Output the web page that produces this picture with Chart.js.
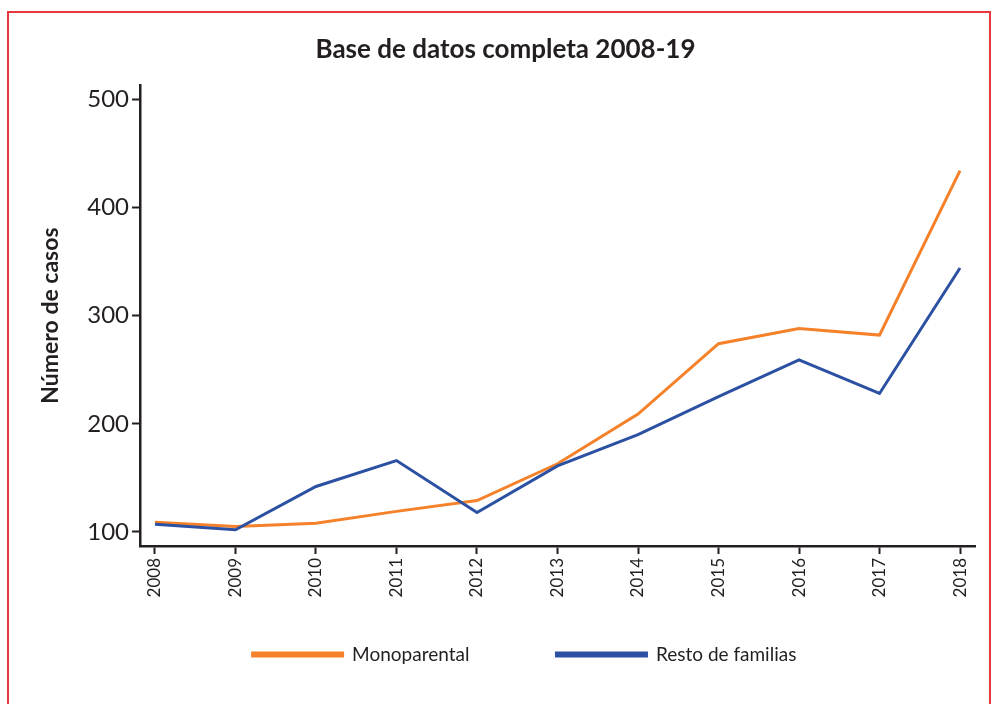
<!DOCTYPE html>
<html lang="es">
<head>
<meta charset="utf-8">
<title>Base de datos completa 2008-19</title>
<script src="https://cdn.jsdelivr.net/npm/chart.js@4.4.1/dist/chart.umd.min.js"></script>
<style>
    html, body { margin: 0; padding: 0; background: #fff; }
    body { width: 996px; height: 704px; position: relative; overflow: hidden; }
    .marco {
        position: absolute; left: 7px; top: 11px; width: 980px; height: 760px;
        border: 2px solid #e8383d; border-bottom: none;
    }
    #grafico { position: absolute; left: 36px; top: 0; }
</style>
</head>
<body>
<div class="marco"></div>
<canvas id="grafico" width="960" height="717"></canvas>
<script>
// datos
const years = [2008, 2009, 2010, 2011, 2012, 2013, 2014, 2015, 2016, 2017, 2018];
const monoparental = [109, 105, 108, 119, 129, 163, 209, 274, 288, 282, 434];
const restoFamilias = [107, 102, 142, 166, 118, 161, 190, 225, 259, 228, 344];
const yTicks = [100, 200, 300, 400, 500];

const ink = '#231f20';
const fuente = 'Lato, "Open Sans", sans-serif';

function toPoints(values) {
    return years.map((year, i) => ({ x: year, y: values[i] }));
}

// la leyenda usa un padding grande para separar los elementos; se recoloca después del layout
const moverLeyenda = {
    id: 'moverLeyenda',
    afterLayout(chart) {
        const lg = chart.legend;
        lg.top -= 43; lg.bottom -= 43;
        lg.left += 19; lg.right += 19;
    }
};

const ctx = document.getElementById('grafico').getContext('2d');
new Chart(ctx, {
    type: 'line',
    data: {
        datasets: [
            {
                label: 'Monoparental',
                data: toPoints(monoparental),
                borderColor: '#f5822a',
                backgroundColor: '#f5822a',
                borderWidth: 3,
                pointRadius: 0,
                tension: 0,
                order: 1
            },
            {
                label: 'Resto de familias',
                data: toPoints(restoFamilias),
                borderColor: '#2c51a3',
                backgroundColor: '#2c51a3',
                borderWidth: 3,
                pointRadius: 0,
                tension: 0,
                order: 0
            }
        ]
    },
    plugins: [moverLeyenda],
    options: {
        responsive: false,
        animation: false,
        layout: { padding: { left: 0, right: 21, top: 0, bottom: 0 } },
        plugins: {
            tooltip: { enabled: false },
            title: {
                display: true,
                text: 'Base de datos completa 2008-19',
                color: ink,
                font: { family: fuente, size: 26, weight: 'bold' },
                padding: { top: 34, bottom: 20 }
            },
            legend: {
                position: 'bottom',
                labels: {
                    color: ink,
                    font: { family: fuente, size: 19 },
                    boxWidth: 90,
                    boxHeight: 3,
                    padding: 87,
                    sort: (a, b) => a.datasetIndex - b.datasetIndex
                }
            }
        },
        scales: {
            x: {
                type: 'linear',
                min: 2007.814,
                max: 2018.186,
                afterBuildTicks: scale => { scale.ticks = years.map(v => ({ value: v })); },
                afterFit: scale => { scale.height = 55; },
                border: { color: ink, width: 2.5 },
                grid: { drawOnChartArea: false, tickLength: 8, tickColor: ink, tickWidth: 2 },
                ticks: {
                    color: ink,
                    font: { family: fuente, size: 17 },
                    minRotation: 90,
                    maxRotation: 90,
                    autoSkip: false,
                    padding: 4,
                    callback: value => String(value)
                }
            },
            y: {
                min: 87,
                max: 513,
                afterBuildTicks: scale => { scale.ticks = yTicks.map(v => ({ value: v })); },
                afterFit: scale => { scale.width = 104; },
                border: { color: ink, width: 2.5 },
                grid: { drawOnChartArea: false, tickLength: 8, tickColor: ink, tickWidth: 2 },
                ticks: {
                    color: ink,
                    font: { family: fuente, size: 24 },
                    padding: 3,
                    autoSkip: false
                },
                title: {
                    display: true,
                    text: 'Número de casos',
                    color: ink,
                    font: { family: fuente, size: 23, weight: 'bold' },
                    padding: { top: 1, bottom: 0 }
                }
            }
        }
    }
});
</script>
</body>
</html>
